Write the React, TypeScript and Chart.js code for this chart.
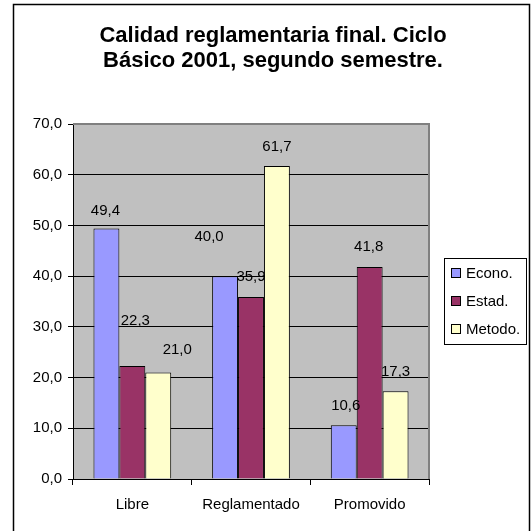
import React, { useEffect, useRef } from "react";
import { Chart, registerables } from "chart.js";

Chart.register(...registerables);

const titleLines = ["Calidad reglamentaria final. Ciclo", "Básico 2001, segundo semestre."];
const categories = ["Libre", "Reglamentado", "Promovido"];
const seriesNames = ["Econo.", "Estad.", "Metodo."];
const econo = [49.4, 40.0, 10.6];
const estad = [22.3, 35.9, 41.8];
const metodo = [21.0, 61.7, 17.3];
const yMin = 0;
const yMax = 70;
const yStep = 10;

const seriesColors = ["#9999FF", "#993366", "#FFFFCC"];
// label displacement (dx, dy) in px from bar top-centre, per series, per category
const labelOffsets = [
  [[-1, -18], [-16, -39], [2, -19]],
  [[3, -45], [0, -20], [-1, -20]],
  [[19, -23], [0, -19], [0, -19]],
];

const FONT = "'Liberation Sans', Arial, sans-serif";
const fmt = (v: number) => v.toFixed(1).replace(".", ",");

const decorPlugin = {
  id: "decor",
  beforeDraw(chart: any) {
    const { ctx, chartArea: a } = chart;
    ctx.save();
    ctx.fillStyle = "#FFFFFF";
    ctx.fillRect(0, 0, chart.width, chart.height);
    ctx.fillStyle = "#C0C0C0";
    ctx.fillRect(a.left, a.top, a.right - a.left, a.bottom - a.top);
    ctx.restore();
  },
  beforeDatasetsDraw(chart: any) {
    const { ctx, chartArea: a } = chart;
    ctx.save();
    ctx.strokeStyle = "#808080";
    ctx.lineWidth = 2;
    ctx.beginPath();
    ctx.moveTo(a.left, a.top);
    ctx.lineTo(a.right, a.top);
    ctx.lineTo(a.right, a.bottom);
    ctx.stroke();
    ctx.restore();
  },
  afterDraw(chart: any) {
    const { ctx } = chart;
    ctx.save();
    // outer frame
    ctx.strokeStyle = "#000000";
    ctx.lineWidth = 1.5;
    ctx.strokeRect(13.5, 4.5, 516, 540);
    // title
    ctx.fillStyle = "#000000";
    ctx.font = `bold 22px ${FONT}`;
    ctx.textAlign = "center";
    ctx.textBaseline = "middle";
    titleLines.forEach((t, i) => ctx.fillText(t, 273, 36 + i * 25));
    // data labels
    ctx.font = `15px ${FONT}`;
    chart.data.datasets.forEach((ds: any, di: number) => {
      const meta = chart.getDatasetMeta(di);
      meta.data.forEach((bar: any, ci: number) => {
        const [dx, dy] = labelOffsets[di][ci];
        ctx.fillText(fmt(ds.data[ci]), bar.x + dx, bar.y + dy);
      });
    });
    // legend
    const lx = 444, ly = 258, lw = 82, lh = 86;
    ctx.lineWidth = 1;
    ctx.strokeStyle = "#000000";
    ctx.fillStyle = "#FFFFFF";
    ctx.fillRect(lx + 0.5, ly + 0.5, lw, lh);
    ctx.strokeRect(lx + 0.5, ly + 0.5, lw, lh);
    ctx.textAlign = "left";
    chart.data.datasets.forEach((ds: any, di: number) => {
      const cy = ly + 15 + di * 28;
      ctx.fillStyle = ds.backgroundColor;
      ctx.fillRect(lx + 7.5, cy - 4.5, 9, 9);
      ctx.strokeRect(lx + 7.5, cy - 4.5, 9, 9);
      ctx.fillStyle = "#000000";
      ctx.fillText(ds.label, lx + 22, cy + 1);
    });
    ctx.restore();
  },
};

export default function App() {
  const ref = useRef<HTMLCanvasElement | null>(null);
  useEffect(() => {
    if (!ref.current) return;
    const seriesValues = [econo, estad, metodo];
    const chart = new Chart(ref.current, {
      type: "bar",
      data: {
        labels: categories,
        datasets: seriesNames.map((name, i) => ({
          label: name,
          data: seriesValues[i],
          backgroundColor: seriesColors[i],
          borderColor: "#000000",
          borderWidth: 1,
          categoryPercentage: 0.655,
          barPercentage: 1.0,
        })),
      },
      options: {
        responsive: false,
        animation: false,
        devicePixelRatio: 1,
        layout: { padding: { left: 13, top: 124, right: 102, bottom: 0 } },
        plugins: {
          legend: { display: false },
          title: { display: false },
          tooltip: { enabled: false },
        },
        scales: {
          x: {
            afterFit: (s: any) => { s.height = 52; },
            grid: {
              display: true,
              drawOnChartArea: false,
              drawTicks: true,
              tickLength: 6,
              color: "#000000",
              offset: true,
            },
            border: { display: true, color: "#000000", width: 1 },
            ticks: { color: "#000000", font: { family: FONT, size: 15 }, padding: 11 },
          },
          y: {
            min: yMin,
            max: yMax,
            afterFit: (s: any) => { s.width = 60; },
            grid: { color: "#000000", tickLength: 5, drawTicks: true },
            border: { display: true, color: "#000000", width: 1 },
            ticks: {
              stepSize: yStep,
              color: "#000000",
              font: { family: FONT, size: 15 },
              padding: 6,
              callback: (v: any) => fmt(Number(v)),
            },
          },
        },
      },
      plugins: [decorPlugin],
    });
    return () => chart.destroy();
  }, []);
  return (
    <div style={{ position: "absolute", left: 0, top: 0, width: 531, height: 531 }}>
      <canvas ref={ref} width={531} height={531} style={{ width: 531, height: 531, display: "block" }} />
    </div>
  );
}
